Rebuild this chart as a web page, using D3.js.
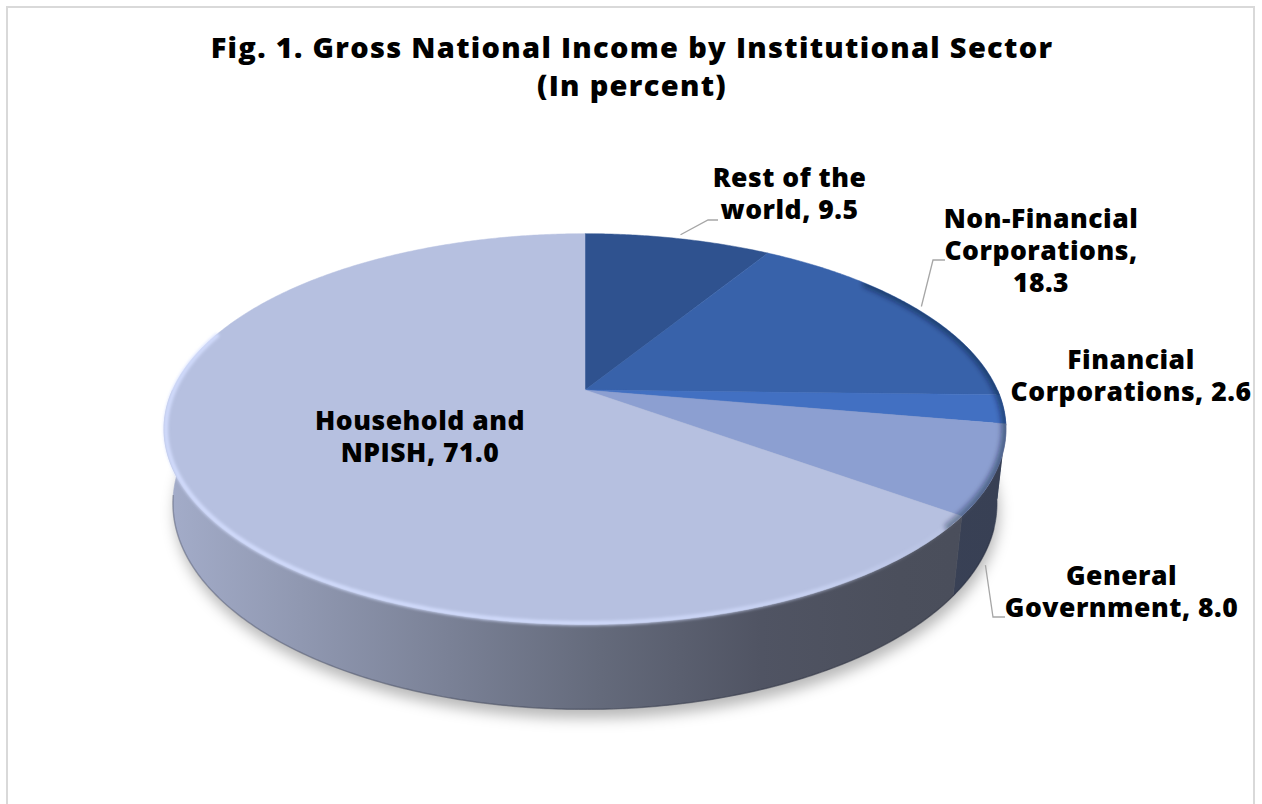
<!DOCTYPE html>
<html>
<head>
<meta charset="utf-8">
<script src="https://cdn.jsdelivr.net/npm/d3@7"></script>
<style>
  body { margin: 0; background: #fff; }
  svg { display: block; }
</style>
</head>
<body>
<svg id="chart" width="1262" height="804"></svg>
<script>
// ---- data ----
const categories = [
  "Rest of the world",
  "Non-Financial Corporations",
  "Financial Corporations",
  "General Government",
  "Household and NPISH"
];
const values = [9.5, 18.3, 2.6, 8.0, 71.0];
// label line breaks; {v} is replaced by the formatted value
const labelLines = [
  ["Rest of the", "world, {v}"],
  ["Non-Financial", "Corporations,", "{v}"],
  ["Financial", "Corporations, {v}"],
  ["General", "Government, {v}"],
  ["Household and", "NPISH, {v}"]
];
const titleLines = ["Fig. 1. Gross National Income by Institutional Sector", "(In percent)"];
const topColors = ["#2F528F", "#3862AA", "#4270C2", "#8C9FD1", "#B6C0E0"];

// ---- layout ----
const W = 1262, H = 804;
// perspective view of a unit disc: centre on screen, focal length, camera distance, tilt, thickness
const view = { cx: 585, cy: 390, focal: 1837, dist: 4.454, tilt: 27.05 * Math.PI / 180, thickness: 0.203 };
const labelLayout = [
  { x: 789.5, y: 187, lead: { r: 1.03, w: 0 },     elbow: [[708, 220], [718, 220]] },
  { x: 1041,  y: 228, lead: { r: 1.02, w: 0 },     elbow: [[933, 260], [945, 260]] },
  { x: 1131,  y: 369 },
  { x: 1121.5, y: 585, lead: { r: 1.0, w: -0.25 }, elbow: [[993, 617], [1005, 617]] },
  { x: 420,   y: 430 }
];
const lineGap = 32;
// side-wall lighting across the pie, left to right
const sideShade = [[0, 0.90], [0.163, 0.79], [0.34, 0.67], [0.52, 0.55], [0.71, 0.44], [0.875, 0.41], [1, 0.40]];
const shadeX = [163, 1005];

const svg = d3.select("#chart");
const defs = svg.append("defs");

// chart frame
svg.append("rect")
  .attr("x", 7).attr("y", 7).attr("width", 1247).attr("height", 805)
  .attr("fill", "#fff").attr("stroke", "#D9D9D9").attr("stroke-width", 2);

// projection of a point on the disc (theta clockwise from the back, radius r, height w)
function project(theta, r, w) {
  const u = r * Math.sin(theta);
  const v = -r * Math.cos(theta);
  const s = Math.sin(view.tilt), c = Math.cos(view.tilt);
  const depth = view.dist - v * c - w * s;
  return [view.cx + view.focal * u / depth, view.cy + view.focal * (v * s - w * c) / depth];
}
function arcPoints(a0, a1, r, w) {
  const n = Math.max(2, Math.ceil((a1 - a0) * 180 / Math.PI * 2));
  return d3.range(n + 1).map(i => project(a0 + (a1 - a0) * i / n, r, w));
}
const line = d3.line();

const pie = d3.pie().sort(null).value(d => d.value).startAngle(0).endAngle(2 * Math.PI);
const data = categories.map((c, i) => ({ name: c, value: values[i], color: topColors[i], lines: labelLines[i], layout: labelLayout[i] }));
const arcs = pie(data);

// filters
const fShadow = defs.append("filter").attr("id", "shadow").attr("x", "-20%").attr("y", "-20%").attr("width", "140%").attr("height", "140%");
fShadow.append("feGaussianBlur").attr("stdDeviation", 7);
const fSoft = defs.append("filter").attr("id", "soft").attr("x", "-10%").attr("y", "-10%").attr("width", "120%").attr("height", "120%");
fSoft.append("feGaussianBlur").attr("stdDeviation", 1.6);
const fSoft2 = defs.append("filter").attr("id", "soft2").attr("x", "-10%").attr("y", "-10%").attr("width", "120%").attr("height", "120%");
fSoft2.append("feGaussianBlur").attr("stdDeviation", 2.5);

// side gradients per slice
arcs.forEach((a, i) => {
  const g = defs.append("linearGradient").attr("id", "side" + i)
    .attr("gradientUnits", "userSpaceOnUse")
    .attr("x1", shadeX[0]).attr("x2", shadeX[1]).attr("y1", 0).attr("y2", 0);
  const base = d3.rgb(a.data.color);
  sideShade.forEach(([o, f]) => {
    g.append("stop").attr("offset", o)
      .attr("stop-color", d3.rgb(base.r * f, base.g * f, base.b * f).formatHex());
  });
});

const pieG = svg.append("g");

// drop shadow under the disc
const bottomOutline = arcPoints(0, 2 * Math.PI, 1, -view.thickness);
pieG.append("path")
  .attr("d", line(bottomOutline.map(p => [p[0] + 2, p[1] + 9])) + "Z")
  .attr("fill", "rgba(0,0,0,0.28)")
  .attr("filter", "url(#shadow)");

// side walls (front half), back-facing parts first
const sides = arcs.map((a, i) => {
  const s = Math.max(a.startAngle, Math.PI / 2), e = Math.min(a.endAngle, 3 * Math.PI / 2);
  return { i, s, e };
}).filter(d => d.e > d.s)
  .sort((p, q) => Math.abs((q.s + q.e) / 2 - Math.PI) - Math.abs((p.s + p.e) / 2 - Math.PI));

pieG.selectAll("path.side").data(sides).join("path")
  .attr("class", "side")
  .attr("d", d => line(arcPoints(d.s, d.e, 1, 0).concat(arcPoints(d.s, d.e, 1, -view.thickness).reverse())) + "Z")
  .attr("fill", d => `url(#side${d.i})`)
  .attr("stroke", d => `url(#side${d.i})`)
  .attr("stroke-width", 0.6);

// thin darker line along the bottom edge
pieG.append("path")
  .attr("d", line(arcPoints(Math.PI * 0.6, Math.PI * 1.45, 1, -view.thickness)))
  .attr("fill", "none").attr("stroke", "rgba(20,24,40,0.25)").attr("stroke-width", 1.5);

// top faces
pieG.selectAll("path.top").data(arcs).join("path")
  .attr("class", "top")
  .attr("d", a => line([[view.cx, view.cy]].concat(arcPoints(a.startAngle, a.endAngle, 1, 0))) + "Z")
  .attr("fill", a => a.data.color)
  .attr("stroke", a => a.data.color)
  .attr("stroke-width", 0.5);

// bevel: darker rim on the right, light rim along the lit front-left edge
const topClip = defs.append("clipPath").attr("id", "topClip");
topClip.append("path").attr("d", line(arcPoints(0, 2 * Math.PI, 1, 0)) + "Z");

pieG.append("path")
  .attr("d", line(arcPoints(Math.PI * 0.28, Math.PI * 0.72, 1, 0)))
  .attr("fill", "none").attr("stroke", "rgba(10,20,50,0.45)").attr("stroke-width", 9)
  .attr("stroke-linecap", "round")
  .attr("clip-path", "url(#topClip)")
  .attr("filter", "url(#soft2)");

const rimGrad = defs.append("linearGradient").attr("id", "rimGrad")
  .attr("gradientUnits", "userSpaceOnUse").attr("x1", 163).attr("x2", 1005).attr("y1", 0).attr("y2", 0);
[[0, 0.9], [0.5, 0.85], [0.78, 0.55], [0.9, 0.15], [1, 0]].forEach(([o, op]) =>
  rimGrad.append("stop").attr("offset", o).attr("stop-color", "#D4DEFF").attr("stop-opacity", op));

pieG.append("path")
  .attr("d", line(arcPoints(Math.PI * 0.62, Math.PI * 1.6, 0.996, 0)))
  .attr("fill", "none").attr("stroke", "url(#rimGrad)").attr("stroke-width", 4.5)
  .attr("stroke-linecap", "round")
  .attr("filter", "url(#soft)");

// leader lines
const leaderG = svg.append("g");
arcs.forEach(a => {
  const L = a.data.layout;
  if (!L.lead) return;
  const mid = (a.startAngle + a.endAngle) / 2;
  const start = project(mid, L.lead.r, L.lead.w);
  leaderG.append("path")
    .attr("d", line([start].concat(L.elbow)))
    .attr("fill", "none").attr("stroke", "#A6A6A6").attr("stroke-width", 1.3);
});

// data labels
const fmt = d3.format(".1f");
const labelG = svg.append("g")
  .attr("font-family", "'Open Sans', 'DejaVu Sans', sans-serif")
  .attr("font-weight", 800).attr("font-size", 26.5).attr("fill", "#000")
  .attr("letter-spacing", 0.5)
  .attr("text-anchor", "middle");
arcs.forEach(a => {
  const L = a.data.layout;
  const t = labelG.append("text").attr("x", L.x).attr("y", L.y);
  a.data.lines.forEach((ln, k) => {
    t.append("tspan").attr("x", L.x).attr("y", L.y + k * lineGap)
      .text(ln.replace("{v}", fmt(a.data.value)));
  });
});

// title
const titleG = svg.append("g")
  .attr("font-family", "'Open Sans', 'DejaVu Sans', sans-serif")
  .attr("font-weight", 800).attr("fill", "#000").attr("text-anchor", "middle")
  .attr("letter-spacing", 1.3);
titleG.append("text").attr("x", 632).attr("y", 58).attr("font-size", 29).text(titleLines[0]);
titleG.append("text").attr("x", 632).attr("y", 96).attr("font-size", 29).text(titleLines[1]);
</script>
</body>
</html>
